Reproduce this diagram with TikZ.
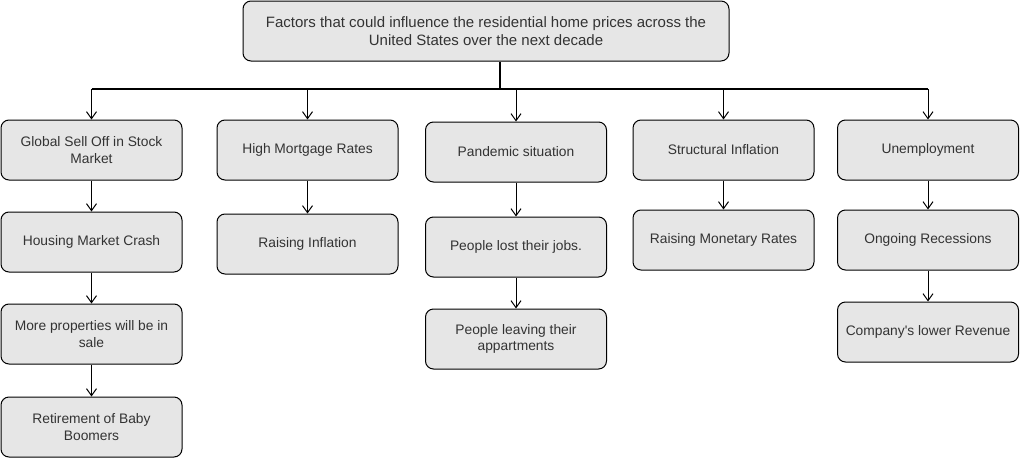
\documentclass[tikz,border=0pt]{standalone}
\usepackage{fontspec}
\setmainfont{Liberation Sans}
\usetikzlibrary{arrows.meta,calc}
\definecolor{boxfill}{HTML}{E6E6E6}
\definecolor{txt}{HTML}{333333}
\tikzset{
  box/.style={draw=black, line width=1pt, fill=boxfill, rounded corners=8pt,
    minimum width=181pt, minimum height=60pt, inner sep=0pt, align=center,
    text=txt, font=\fontsize{13.8}{16.7}\selectfont},
  topbox/.style={box, minimum width=486pt, font=\fontsize{15}{17.5}\selectfont},
  conn/.style={draw=black, line width=1pt, -{Straight Barb[length=7pt,width=10pt,line width=1pt]}},
  bus/.style={draw=black, line width=1.8pt}
}
\begin{document}
\begin{tikzpicture}[x=1pt,y=-1pt]
\useasboundingbox (0,0) rectangle (1020,458);
\node[topbox] (top) at (486,31) {Factors that could influence the residential home prices across the\\United States over the next decade};
\node[box] (A) at (91.5,150) {Global Sell Off in Stock\\Market};
\node[box] (A2) at (91.5,242) {Housing Market Crash};
\node[box] (A3) at (91.5,334) {More properties will be in\\sale};
\node[box] (A4) at (91.5,427) {Retirement of Baby\\Boomers};
\node[box] (B) at (307.5,150) {High Mortgage Rates};
\node[box] (B2) at (307.5,244) {Raising Inflation};
\node[box] (C) at (516,152) {Pandemic situation};
\node[box] (C2) at (516,247) {People lost their jobs.};
\node[box] (C3) at (516,339) {People leaving their\\appartments};
\node[box] (D) at (723.5,150) {Structural Inflation};
\node[box] (D2) at (723.5,240) {Raising Monetary Rates};
\node[box] (E) at (928,150) {Unemployment};
\node[box] (E2) at (928,240) {Ongoing Recessions};
\node[box] (E3) at (928,332) {Company\textquotesingle s lower Revenue};
\coordinate (hub) at (500,89);
\draw[bus] (top.south -| hub) -- (hub);
\draw[bus] (A.north |- hub) -- (E.north |- hub);
\foreach \n in {A,B,C,D,E} {
  \draw[conn] (\n.north |- hub) -- (\n.north);
}
\draw[conn] (A) -- (A2);
\draw[conn] (A2) -- (A3);
\draw[conn] (A3) -- (A4);
\draw[conn] (B) -- (B2);
\draw[conn] (C) -- (C2);
\draw[conn] (C2) -- (C3);
\draw[conn] (D) -- (D2);
\draw[conn] (E) -- (E2);
\draw[conn] (E2) -- (E3);
\end{tikzpicture}
\end{document}
